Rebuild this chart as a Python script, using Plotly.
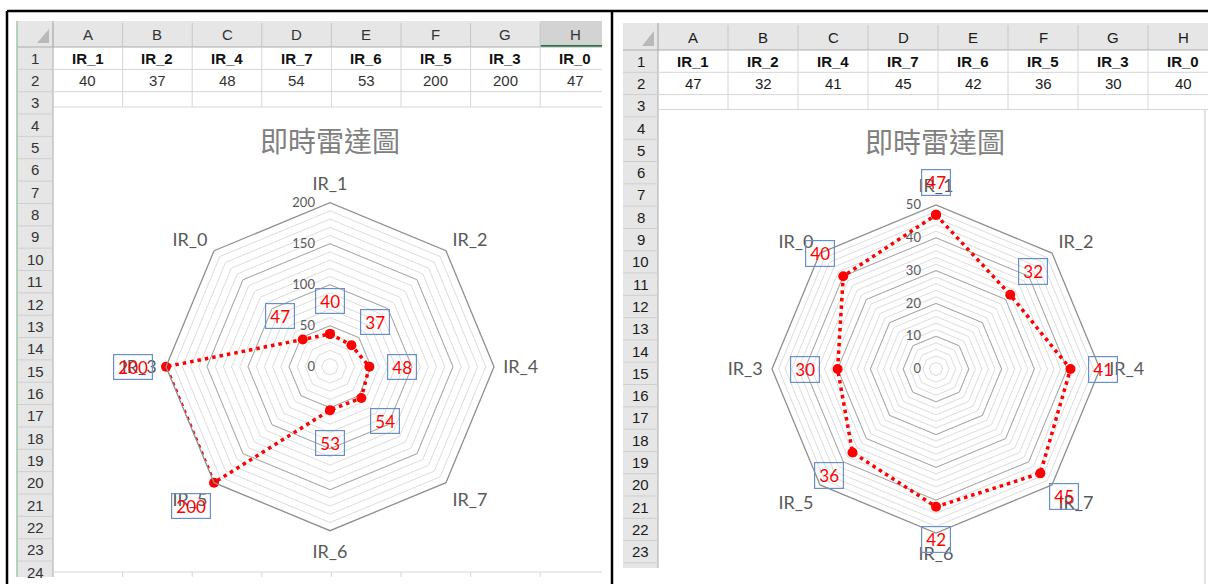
import math
import plotly.graph_objects as go

W, H = 1208, 584

# ---- data -------------------------------------------------------------
categories = ["IR_1", "IR_2", "IR_4", "IR_7", "IR_6", "IR_5", "IR_3", "IR_0"]
values_left = [40, 37, 48, 54, 53, 200, 200, 47]
values_right = [47, 32, 41, 45, 42, 36, 30, 40]
col_letters = ["A", "B", "C", "D", "E", "F", "G", "H"]
chart_title = "即時雷達圖"

# radial scale of each radar: (maximum, major step, minor step)
scale_left = (200, 50, 10)
scale_right = (50, 10, 2)

# ---- styles -----------------------------------------------------------
GRID = "#d6d6d6"
HDR_FILL = "#e6e6e6"
HDR_LINE = "#acacac"
RED = "#ff0000"
BOX = "#6a8fc8"
AXIS_TXT = "#595959"
CELL_FONT = "Liberation Sans, Arial, sans-serif"
CHART_FONT = "Lato, Carlito, sans-serif"
CJK_FONT = "Noto Sans CJK TC, Noto Sans CJK SC, sans-serif"

shapes, annotations = [], []


def X(p):
    return p / W


def Y(p):
    return 1 - p / H


def line(x0, y0, x1, y1, color, width=1):
    shapes.append(dict(type="line", xref="paper", yref="paper",
                       x0=X(x0), y0=Y(y0), x1=X(x1), y1=Y(y1),
                       line=dict(color=color, width=width), layer="below"))


def rect(x0, y0, x1, y1, fill):
    shapes.append(dict(type="rect", xref="paper", yref="paper",
                       x0=X(x0), y0=Y(y0), x1=X(x1), y1=Y(y1),
                       fillcolor=fill, line=dict(width=0), layer="below"))


def tri(pts, fill):
    path = "M " + " L ".join(f"{X(a)},{Y(b)}" for a, b in pts) + " Z"
    shapes.append(dict(type="path", xref="paper", yref="paper", path=path,
                       fillcolor=fill, line=dict(width=0), layer="below"))


def text(x, y, s, size, color, family, bold=False, **kw):
    annotations.append(dict(x=X(x), y=Y(y), xref="paper", yref="paper",
                            text=f"<b>{s}</b>" if bold else s, showarrow=False,
                            font=dict(size=size, color=color, family=family),
                            xanchor="center", yanchor="middle", **kw))


def sheet(x_r0, x_r1, y_h0, y_h1, col_w, row_h, right, bottom, chart_top,
          values, n_rows, ink, selected=None, foot=None):
    # header bands
    rect(x_r0, y_h0, right, y_h1, HDR_FILL)
    rect(x_r0, y_h1, x_r1, bottom, HDR_FILL)
    if selected is not None:
        xs = x_r1 + selected * col_w
        rect(xs, y_h0, min(xs + col_w, right), y_h1, "#d3d3d3")
        line(xs, y_h1 - 1, min(xs + col_w, right), y_h1 - 1, "#217346", 2)
    tri([(x_r1 - 4, y_h0 + 8), (x_r1 - 4, y_h1 - 4), (x_r1 - 16, y_h1 - 4)], "#b9b9b9")
    for i in range(len(col_letters) + 1):
        xc = x_r1 + i * col_w
        if xc < right:
            line(xc, y_h0 + 2, xc, y_h1, "#c6c6c6")
    line(x_r0, y_h1, right, y_h1, HDR_LINE)
    line(x_r1, y_h0, x_r1, bottom, HDR_LINE)
    for k in range(1, n_rows + 1):
        yb = y_h1 + k * row_h
        if yb < bottom:
            line(x_r0, yb, x_r1, yb, "#cfcfcf")
    # cell grid of rows 1-3 (the chart area covers the rest)
    for k in (1, 2):
        yb = y_h1 + k * row_h
        line(x_r1, yb, right, yb, GRID)
    line(x_r1, chart_top, right, chart_top, GRID)
    for i in range(1, len(col_letters) + 1):
        xc = x_r1 + i * col_w
        if xc < right:
            line(xc, y_h1, xc, chart_top, GRID)
    if foot is not None:
        line(x_r1, foot, right, foot, GRID)
        for i in range(1, len(col_letters) + 1):
            xc = x_r1 + i * col_w
            if xc < right:
                line(xc, foot, xc, bottom, GRID)
    # cell texts
    for i, letter in enumerate(col_letters):
        xc = x_r1 + (i + 0.5) * col_w
        text(xc, (y_h0 + y_h1) / 2 + 1, letter, 15, ink, CELL_FONT)
        text(xc, y_h1 + 0.5 * row_h, categories[i], 15, "#111111", CELL_FONT, bold=True)
        text(xc, y_h1 + 1.5 * row_h, str(values[i]), 15, ink, CELL_FONT)
    for k in range(1, n_rows + 1):
        text((x_r0 + x_r1) / 2, y_h1 + (k - 0.5) * row_h, str(k), 15, ink, CELL_FONT)


fig = go.Figure()
layout_polars = {}


def radar(ids, cx, cy, R, values, scale, box_h):
    rmax, major, minor = scale
    dom = dict(x=[(cx - R) / W, (cx + R) / W], y=[1 - (cy + R) / H, 1 - (cy - R) / H])
    ang = dict(type="category", categoryorder="array", categoryarray=categories,
               rotation=90, direction="clockwise", showgrid=False)
    minor_id, major_id = ids
    # minor rings
    layout_polars[minor_id] = dict(
        domain=dom, bgcolor="rgba(0,0,0,0)", gridshape="linear",
        radialaxis=dict(range=[0, rmax], tickvals=list(range(0, rmax + 1, minor)),
                        showgrid=True, gridcolor="#dcdcdc", gridwidth=1,
                        showline=False, showticklabels=False, ticks=""),
        angularaxis=dict(**ang, showline=False, showticklabels=False, ticks=""))
    # major rings, axis labels and the series
    layout_polars[major_id] = dict(
        domain=dom, bgcolor="rgba(0,0,0,0)", gridshape="linear",
        radialaxis=dict(range=[0, rmax], tickvals=list(range(0, rmax + 1, major)),
                        showgrid=True, gridcolor="#a8a8a8", gridwidth=1,
                        showline=False, ticks="outside", ticklen=10,
                        tickcolor="rgba(0,0,0,0)", angle=90, side="counterclockwise",
                        tickangle=90,
                        tickfont=dict(size=13, color=AXIS_TXT, family=CHART_FONT)),
        angularaxis=dict(**ang, showline=True, linecolor="#8f8f8f", linewidth=1.3,
                         ticks="outside", ticklen=5, tickcolor="rgba(0,0,0,0)",
                         tickfont=dict(size=18, color=AXIS_TXT, family=CHART_FONT)))
    fig.add_trace(go.Scatterpolar(r=[0] * len(categories), theta=categories, mode="markers",
                                  marker=dict(opacity=0), hoverinfo="skip",
                                  subplot=minor_id, showlegend=False))
    fig.add_trace(go.Scatterpolar(r=values + values[:1], theta=categories + categories[:1],
                                  mode="lines+markers", subplot=major_id, showlegend=False,
                                  line=dict(color=RED, width=3.5, dash="3.5px,4px"),
                                  marker=dict(color=RED, size=10)))
    # boxed value labels, placed outward of each point
    n = len(categories)
    for k, v in enumerate(values):
        rr = (v + 0.2 * rmax) / rmax * R
        a = math.radians(90 - 360 * k / n)
        px, py = cx + rr * math.cos(a), cy - rr * math.sin(a)
        s = str(v)
        text(px, py, s, 17, RED, CHART_FONT, width=8 + 10 * len(s), height=box_h,
             bordercolor=BOX, borderwidth=1.2, borderpad=0)


# left sheet
sheet(17, 53, 21, 47, 69.6, 22.35, 602, 577, 107, values_left, 24, "#333333",
      selected=7, foot=572)
line(17, 21, 17, 577, "#9cc9a6", 1.5)
text(330, 140, chart_title, 28, "#808080", CJK_FONT)
radar(("polar", "polar2"), 330, 366.7, 164, values_left, scale_left, 24)

# right sheet
sheet(623, 658, 23, 50, 70, 22.3, 1208, 568, 109.5, values_right, 23, "#1a1a1a")
line(1205, 110, 1205, 584, "#e2e2e2", 2)
text(935, 141, chart_title, 28, "#808080", CJK_FONT)
radar(("polar3", "polar4"), 936, 369, 164, values_right, scale_right, 25)

# panel frame
line(7, 11, 1208, 11, "#000000", 2.5)
line(7, 11, 7, 584, "#000000", 2.5)
line(612, 11, 612, 584, "#000000", 2.5)

fig.update_layout(width=W, height=H, margin=dict(l=0, r=0, t=0, b=0),
                  paper_bgcolor="white", plot_bgcolor="white",
                  shapes=shapes, annotations=annotations, showlegend=False,
                  **layout_polars)
fig.write_html("out.html")
